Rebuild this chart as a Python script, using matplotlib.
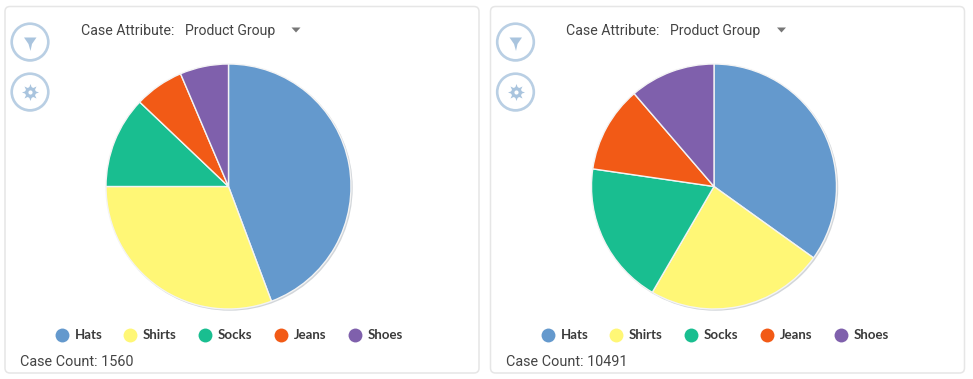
import matplotlib
matplotlib.use("Agg")
import matplotlib.pyplot as plt
from matplotlib.patches import FancyBboxPatch, Circle, Polygon

categories = ["Hats", "Shirts", "Socks", "Jeans", "Shoes"]
left_values = [44.3, 30.7, 12.1, 6.5, 6.4]
right_values = [34.9, 23.5, 18.9, 11.4, 11.3]
colors = ["#6499CD", "#FFF776", "#19BE90", "#F25A16", "#7F60AC"]
left_count = 1560
right_count = 10491
attribute_label = "Case Attribute:"
attribute_value = "Product Group"

W, H = 973, 379
fig = plt.figure(figsize=(W / 100, H / 100), dpi=100, facecolor="white")
bg = fig.add_axes([0, 0, 1, 1])
bg.set_xlim(0, W)
bg.set_ylim(H, 0)
bg.axis("off")

TXT = "#444444"
RING = "#B9CFE4"
ICON = "#A9C4DE"


def panel(x0, x1, values, count, cx):
    bg.add_patch(FancyBboxPatch((x0, 6.5), x1 - x0, 366.5,
                                boxstyle="round,pad=0,rounding_size=5",
                                fc="white", ec="#E6E6E6", lw=1.1))
    off = x0 - 5
    # icon buttons
    for y in (42, 92):
        bg.add_patch(Circle((off + 30, y + 0.8), 19, fc="#DDE6EE", ec="none", alpha=.8))
        bg.add_patch(Circle((off + 30, y), 18.3, fc="white", ec=RING, lw=1.9))
    bg.add_patch(Polygon([(off + 24, 37.5), (off + 36.5, 37.5), (off + 32, 44),
                          (off + 30.5, 51), (off + 28.5, 44)],
                         fc=ICON, ec="none"))
    bg.scatter([off + 30], [92], s=150, marker=(8, 1, 0), color=ICON, linewidths=0, zorder=3)
    bg.scatter([off + 30], [92], s=60, marker="o", color=ICON, linewidths=0, zorder=3)
    bg.scatter([off + 30], [92], s=9, marker="o", color="white", linewidths=0, zorder=4)
    # selector
    bg.text(off + 81, 31, attribute_label, fontsize=10.2, color=TXT, va="center", family="Roboto")
    bg.text(off + 185, 31, attribute_value, fontsize=10.1, color=TXT, va="center", family="Roboto")
    bg.add_patch(Polygon([(off + 291.5, 27.5), (off + 300.5, 27.5), (off + 296, 32.5)],
                         fc="#777777", ec="none"))
    # legend
    for cat, col, mx, tx in zip(categories, colors,
                                (62, 130, 205, 281, 355), (75, 143, 218, 294, 368)):
        bg.scatter([off + mx], [334.5], s=100, color=col, linewidths=0, zorder=3)
        bg.text(off + tx, 335, cat, fontsize=9.5, color="#3A3A3A", va="center",
                family="Lato", fontweight="bold")
    bg.text(off + 20, 361.5, f"Case Count: {count}", fontsize=10.35, color=TXT, va="center", family="Roboto")
    # pie
    R = 122.5
    cy = 186.5
    ax = fig.add_axes([(cx - R) / W, 1 - (cy + R) / H, 2 * R / W, 2 * R / H])
    ax.set_xlim(-1, 1)
    ax.set_ylim(-1, 1)
    ax.axis("off")
    ax.add_patch(Circle((0.010, -0.010), 1.004, fc="#D2D6DA", ec="none", clip_on=False, zorder=0))
    ax.pie(values, colors=colors, startangle=90, counterclock=False, radius=1,
           wedgeprops=dict(edgecolor="#F4F4F4", linewidth=1.0, clip_on=False),
           frame=False)
    ax.set_xlim(-1, 1)
    ax.set_ylim(-1, 1)


panel(5, 479, left_values, left_count, 228.5)
panel(490.5, 964.5, right_values, right_count, 714)

fig.savefig("out.png", dpi=100, facecolor="white")
